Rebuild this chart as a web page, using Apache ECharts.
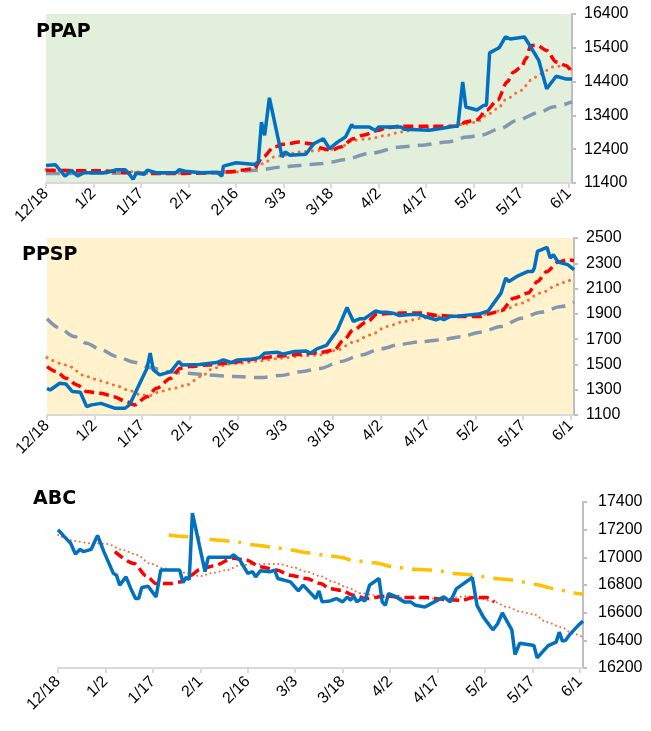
<!DOCTYPE html>
<html>
<head>
<meta charset="utf-8">
<script src="https://cdn.jsdelivr.net/npm/echarts@6/dist/echarts.min.js"></script>
<style>
html,body{margin:0;padding:0;background:#fff;}
#chart{width:651px;height:731px;}
</style>
</head>
<body>
<div id="chart"></div>
<script>
// x values are day offsets from 12/18 (0) to 6/2 (166)
const tickLabels = ['12/18','1/2','1/17','2/1','2/16','3/3','3/18','4/2','4/17','5/2','5/17','6/1'];
const tickDays = [0,15,30,45,60,75,90,105,120,135,150,165];

// ---- PPAP ----
const ppapPrice = [[0,11920],[3,11940],[6,11600],[8,11775],[10,11610],[12,11705],[19,11700],[22,11790],[25,11790],[26,11700],[27.5,11510],[28.5,11700],[31,11660],[32,11780],[35,11700],[41,11700],[42,11790],[44,11750],[49,11700],[54,11720],[55.5,11600],[56,11900],[60,12000],[66,11950],[67,12030],[68,13200],[69,12810],[70.5,13920],[74.5,12170],[75.5,12320],[77,12220],[82,12250],[84.5,12560],[87.5,12710],[89.5,12415],[92,12610],[94.5,12760],[96.5,13130],[97,13060],[102,13060],[104,12950],[105,13060],[112,13060],[113,12990],[121,12960],[130,13090],[131.5,14390],[132.5,13650],[136,13560],[138,13690],[139,13700],[140,15250],[143,15400],[145,15720],[146.5,15660],[151,15720],[153,15420],[155.5,15030],[158,14190],[161,14560],[164,14480],[166,14480]];
const ppapMaShort = [[0,11775],[17,11760],[30,11680],[40,11680],[53,11700],[58,11730],[65.5,11820],[68.5,12170],[72,12465],[75,12545],[80,12610],[83.5,12560],[87.5,12415],[90,12370],[93,12465],[97,12710],[100,12810],[105,12960],[107.5,13040],[112,13080],[121,13080],[131,13080],[132,13200],[136,13270],[139,13550],[142.5,13850],[145.5,14390],[147.5,14680],[150,14830],[151.5,15080],[153,15470],[155,15470],[158,15320],[161,14980],[164,14880],[166,14680]];
const ppapMaMid = [[0,11795],[20,11750],[38,11700],[59,11710],[65.5,11820],[68.5,11970],[72,12170],[75,12220],[80,12320],[86.5,12365],[90,12390],[93,12470],[97,12660],[102,12710],[107.5,12810],[112,12910],[118,13010],[128.5,13080],[132,13140],[136,13200],[139,13400],[142.5,13600],[145.5,13900],[150,14140],[153,14440],[156,14630],[160,14830],[164,14880],[166,14730]];
const ppapMaLong = [[0,11680],[49,11700],[59,11740],[66.5,11775],[74,11870],[80,11920],[86.5,11970],[90,12020],[94,12090],[102,12270],[112,12465],[118,12515],[126.5,12610],[133,12760],[137,12810],[143.5,13010],[148.5,13250],[156,13500],[160,13650],[166,13800]];

// ---- PPSP ----
const ppspPrice = [[0,1311],[1,1298],[4,1351],[6,1345],[8,1285],[10.5,1280],[12.5,1166],[14,1180],[17,1192],[21.5,1153],[24.5,1153],[26,1180],[28,1285],[31.5,1470],[32.5,1589],[33.5,1457],[35.5,1417],[39,1443],[41.5,1523],[42.5,1496],[48,1500],[53.5,1515],[55.5,1536],[58,1515],[60,1536],[64,1540],[67,1554],[68.5,1589],[72.5,1597],[74.5,1582],[78,1602],[81.5,1607],[83,1589],[85,1623],[88,1650],[90,1720],[91.5,1773],[94.5,1950],[96.5,1840],[98.5,1861],[100,1861],[103.5,1924],[105,1913],[107,1913],[109,1905],[111,1887],[113.5,1892],[117,1897],[119,1879],[122.5,1853],[124,1866],[125,1853],[127,1879],[130,1884],[136,1898],[139,1924],[143,2064],[144.5,2183],[145.5,2156],[148,2196],[151.5,2236],[153,2236],[153.5,2262],[154.5,2394],[157.5,2426],[158.5,2341],[159.5,2368],[161,2310],[164,2289],[166,2249]];
const ppspMaShort = [[0,1483],[3,1443],[6,1390],[9.5,1338],[12.5,1285],[17,1272],[21,1245],[25,1206],[27.5,1179],[31.5,1245],[34.5,1311],[39,1390],[42,1470],[45,1483],[50.5,1496],[57,1509],[61,1523],[67,1549],[73.5,1567],[80,1581],[86,1594],[90.5,1615],[93.5,1694],[96.5,1773],[101,1840],[104,1898],[111.5,1906],[118,1906],[123,1887],[130,1879],[136.5,1879],[139,1898],[143,1924],[147,2024],[151.5,2064],[154.5,2156],[157.5,2236],[161,2310],[164,2328],[166,2320]];
const ppspMaMid = [[0,1554],[6,1496],[12.5,1404],[17,1369],[21,1338],[26.5,1290],[29.5,1258],[32.5,1253],[35.5,1285],[40,1311],[44,1338],[48.5,1404],[52.5,1470],[57,1501],[61,1509],[67,1528],[73.5,1549],[80,1567],[86,1575],[91.5,1615],[96.5,1676],[102,1734],[107,1800],[112.5,1840],[118,1866],[123,1879],[130.5,1887],[136.5,1892],[143,1924],[149.5,1985],[155.5,2064],[161,2130],[164,2162],[166,2170]];
const ppspMaLong = [[0,1861],[4,1787],[8.5,1721],[12.5,1668],[17,1615],[22,1562],[27.5,1517],[32.5,1475],[38,1443],[44,1430],[50.5,1417],[59,1404],[67.5,1396],[73.5,1412],[80,1443],[86,1468],[92.5,1523],[99,1575],[105,1623],[111.5,1660],[118,1681],[124,1694],[130.5,1720],[136.5,1755],[143,1800],[149.5,1866],[155.5,1913],[162,1958],[166,1993]];

// ---- ABC ----
const abcPrice = [[0,17199],[2,17150],[4,17102],[5.5,17024],[7,17058],[8,17041],[10.5,17058],[12.5,17158],[14.5,17041],[17.5,16884],[18.5,16870],[19.5,16799],[21.5,16859],[23,16775],[24.5,16702],[25.5,16702],[26.5,16782],[28.5,16791],[31,16714],[32.5,16908],[38.5,16908],[39.5,16818],[40.5,16854],[41.5,16840],[42.5,17320],[46.5,16896],[47.5,17000],[54.5,17000],[55.5,17017],[57.5,16980],[60,16884],[61.5,16896],[62.5,16859],[64,16903],[67,16895],[68.5,16908],[69.5,16847],[73.5,16823],[76,16757],[77.5,16799],[81.5,16702],[82.5,16757],[83.5,16678],[86,16685],[88,16702],[90,16678],[91.5,16714],[92.5,16690],[93.5,16719],[94.5,16678],[96,16702],[97,16683],[98.5,16799],[101.5,16847],[102.5,16678],[103.5,16653],[104.5,16738],[106.5,16719],[109.5,16678],[111.5,16678],[113,16653],[116,16641],[119,16678],[122,16714],[124,16678],[126,16774],[131,16854],[132.5,16653],[134.5,16568],[137.5,16476],[139,16520],[140.5,16598],[143.5,16476],[144.5,16297],[146,16379],[150.5,16362],[151.5,16273],[155,16362],[157.5,16387],[158.5,16459],[159.5,16394],[160.5,16400],[162,16447],[164.5,16508],[166,16539]];
const abcMaShort = [[18,17041],[24,16956],[28,16864],[31,16811],[35.5,16811],[39,16823],[41.5,16864],[45,16913],[49,16937],[55.5,16993],[59.5,16980],[64,16932],[69,16908],[73.5,16871],[78.5,16847],[83,16811],[86,16774],[89.5,16762],[93.5,16726],[97.5,16702],[104,16719],[110.5,16709],[116.5,16709],[123,16694],[127.5,16690],[131.5,16709],[135.5,16709],[138,16678]];
const abcMaMid = [[0,17162],[5,17119],[10,17102],[15.5,17097],[20.5,17053],[25,17017],[29,16956],[33.5,16920],[37.5,16903],[40.5,16888],[45,16864],[49,16888],[53.5,16908],[57.5,16944],[62,16951],[70,16951],[74.5,16927],[78.5,16896],[83,16864],[87,16823],[91.5,16782],[95.5,16743],[100,16726],[104,16714],[110.5,16709],[116.5,16702],[123,16702],[129.5,16719],[133.5,16702],[138,16678],[142,16641],[146.5,16605],[150.5,16588],[154.5,16532],[159,16496],[163,16447],[166,16423]];
const abcMaLong = [[35,17162],[40.5,17150],[45,17140],[50,17126],[55.5,17114],[62,17090],[68,17073],[73.5,17053],[78.5,17034],[86,17010],[89.5,17000],[93.5,16976],[100,16961],[106,16932],[112.5,16913],[119,16908],[125,16884],[131.5,16871],[138,16847],[144,16835],[150.5,16806],[157,16774],[163,16743],[166,16733]];

const panels = [
  {title:'PPAP', yMin:11400, yMax:16400, yStep:1000},
  {title:'PPSP', yMin:1100, yMax:2500, yStep:200},
  {title:'ABC', yMin:16200, yMax:17400, yStep:200}
];

const LABEL_FONT = '"Liberation Sans", Arial, sans-serif';
const chart = echarts.init(document.getElementById('chart'), null, {renderer:'canvas'});

const grids = [
  {left:46, top:14, width:526, height:169, show:true, backgroundColor:'#E2EFDA', borderWidth:0},
  {left:47, top:238, width:527, height:177, show:true, backgroundColor:'#FFF2CC', borderWidth:0},
  {left:58, top:502, width:525, height:166, show:false}
];

const xAxes = grids.map((g,i)=>({
  type:'value', gridIndex:i, min:0, max:166,
  axisLine:{show:true, onZero:false, lineStyle:{color:'#D9D9D9', width:2}},
  axisTick:{show:true, length:5, customValues:tickDays, lineStyle:{color:'#D9D9D9', width:2}},
  axisLabel:{customValues:tickDays, rotate:45, margin: i===2?11:8, color:'#000', fontSize:16, fontFamily:LABEL_FONT,
    formatter:v=>{const k=tickDays.indexOf(Math.round(v)); return k>=0?tickLabels[k]:'';}},
  splitLine:{show:false}
}));

const yAxes = panels.map((p,i)=>({
  type:'value', gridIndex:i, position:'right', min:p.yMin, max:p.yMax, interval:p.yStep,
  axisLine:{show:true, onZero:false, lineStyle:{color:'#BFBFBF', width:2}},
  axisTick:{show:true, length:4, lineStyle:{color:'#BFBFBF', width:2}},
  axisLabel:{margin: i===2?15:12, color:'#000', fontSize:16, fontFamily:LABEL_FONT, formatter:v=>String(v)},
  splitLine:{show:false}
}));

function line(data, idx, color, width, type, extra){
  return Object.assign({
    type:'line', xAxisIndex:idx, yAxisIndex:idx, data:data, showSymbol:false, symbol:'none',
    lineStyle:{color:color, width:width, type:type, cap: Array.isArray(type)&&type[0]<1?'round':'butt'},
    animation:false, silent:true
  }, extra||{});
}

const BLUE='#0070C0', RED='#FF0000', ORANGE='#F4703A', GRAY='#8497B0', GOLD='#FFC000';
const sm = {smooth:0.3, smoothMonotone:'x'};

const series = [
  line(ppapMaLong,0,GRAY,3.5,[14,8],sm),
  line(ppapMaMid,0,ORANGE,3,[0.1,6.5],sm),
  line(ppapMaShort,0,RED,3.5,[10,5],sm),
  line(ppapPrice,0,BLUE,3.5,'solid'),
  line(ppspMaLong,1,GRAY,3.5,[14,8],sm),
  line(ppspMaMid,1,ORANGE,3,[0.1,6.5],sm),
  line(ppspMaShort,1,RED,3.5,[10,5],sm),
  line(ppspPrice,1,BLUE,3.5,'solid'),
  line(abcMaLong,2,GOLD,3.5,[20,9,3,9],sm),
  line(abcMaMid,2,ORANGE,2,[0.1,4.5],sm),
  line(abcMaShort,2,RED,3.5,[10,5],sm),
  line(abcPrice,2,BLUE,3.5,'solid')
];

const titleStyle = {fontFamily:'"DejaVu Sans", Verdana, sans-serif', fontWeight:'bold', fontSize:19, color:'#000'};
const titles = [
  {text:panels[0].title, left:36, top:23, padding:0, textStyle:titleStyle},
  {text:panels[1].title, left:22, top:246, padding:0, textStyle:titleStyle},
  {text:panels[2].title, left:33, top:490, padding:0, textStyle:titleStyle}
];

chart.setOption({
  animation:false,
  backgroundColor:'#ffffff',
  title:titles,
  grid:grids,
  xAxis:xAxes,
  yAxis:yAxes,
  series:series
});
</script>
</body>
</html>
